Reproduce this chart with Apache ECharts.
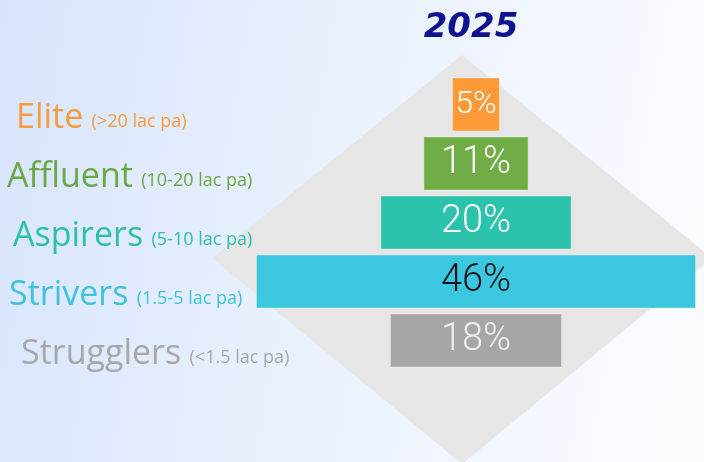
<!DOCTYPE html>
<html>
<head>
<meta charset="utf-8">
<script src="https://cdn.jsdelivr.net/npm/echarts@6/dist/echarts.min.js"></script>
<style>
  html, body { margin: 0; padding: 0; }
  body { background: linear-gradient(100deg, #d7e4fc 0%, #e9f1fd 45%, #fbfcff 100%); }
  #chart { width: 704px; height: 462px; }
</style>
</head>
<body>
<div id="chart"></div>
<script>
// data
const segments = ['Elite', 'Affluent', 'Aspirers', 'Strivers', 'Strugglers']
const ranges = ['(>20 lac pa)', '(10-20 lac pa)', '(5-10 lac pa)', '(1.5-5 lac pa)', '(<1.5 lac pa)']
const shares = [5, 11, 20, 46, 18]

// styles
const barColors = ['#fd9a38', '#70ad47', '#2cc3ad', '#3cc7e0', '#a6a6a6']
const nameColors = ['#f89a3e', '#6aa843', '#2cc0aa', '#3cc4de', '#a8a8a8']
const valueColors = ['#ffffff', '#ffffff', '#ffffff', '#151515', '#eeeeee']
const indents = [9, 0, 6, 2, 14]

const maxShare = Math.max(...shares)
const labelFont = '"Open Sans", Lato, sans-serif'

const rich = {}
segments.forEach((s, i) => {
  rich['n' + i] = { fontSize: 34, color: nameColors[i], fontFamily: labelFont, padding: [0, 0, 0, indents[i]] }
  rich['s' + i] = { fontSize: 18, color: nameColors[i], fontFamily: labelFont, padding: [0, 0, 5, 5], verticalAlign: 'bottom' }
})

const chart = echarts.init(document.getElementById('chart'))
chart.setOption({
  backgroundColor: 'transparent',
  title: {
    text: '2025',
    left: 466,
    textAlign: 'center',
    top: 6,
    textStyle: { fontSize: 34, fontWeight: 'bold', fontStyle: 'italic', color: '#10128f', fontFamily: '"DejaVu Sans", sans-serif' }
  },
  graphic: [{
    type: 'polygon',
    z: 0,
    silent: true,
    shape: { points: [[462, 55], [712, 258], [462, 464], [212, 258]] },
    style: { fill: '#e6e6e6' }
  }],
  grid: { left: 256, right: 8, top: 75, bottom: 92 },
  xAxis: { type: 'value', min: 0, max: maxShare, show: false },
  yAxis: {
    type: 'category',
    inverse: true,
    data: segments,
    axisLine: { show: false },
    axisTick: { show: false },
    splitLine: { show: false },
    axisLabel: {
      align: 'left',
      margin: 249,
      padding: [28, 0, 0, 0],
      formatter: (v, i) => '{n' + i + '|' + v + '} {s' + i + '|' + ranges[i] + '}',
      rich: rich
    }
  },
  series: [
    {
      type: 'bar',
      stack: 'pyr',
      silent: true,
      barWidth: 54,
      itemStyle: { color: 'transparent' },
      data: shares.map(v => (maxShare - v) / 2)
    },
    {
      type: 'bar',
      stack: 'pyr',
      barWidth: 54,
      data: shares.map((v, i) => ({
        value: v,
        itemStyle: { color: barColors[i], borderColor: 'rgba(255,255,255,0.35)', borderWidth: 1 },
        label: { color: valueColors[i], fontSize: v < 8 ? 32 : 38 }
      })),
      label: {
        show: true,
        position: 'inside',
        formatter: p => p.value + '%',
        fontFamily: 'Roboto, sans-serif',
        fontWeight: 300
      }
    }
  ]
})
</script>
</body>
</html>
